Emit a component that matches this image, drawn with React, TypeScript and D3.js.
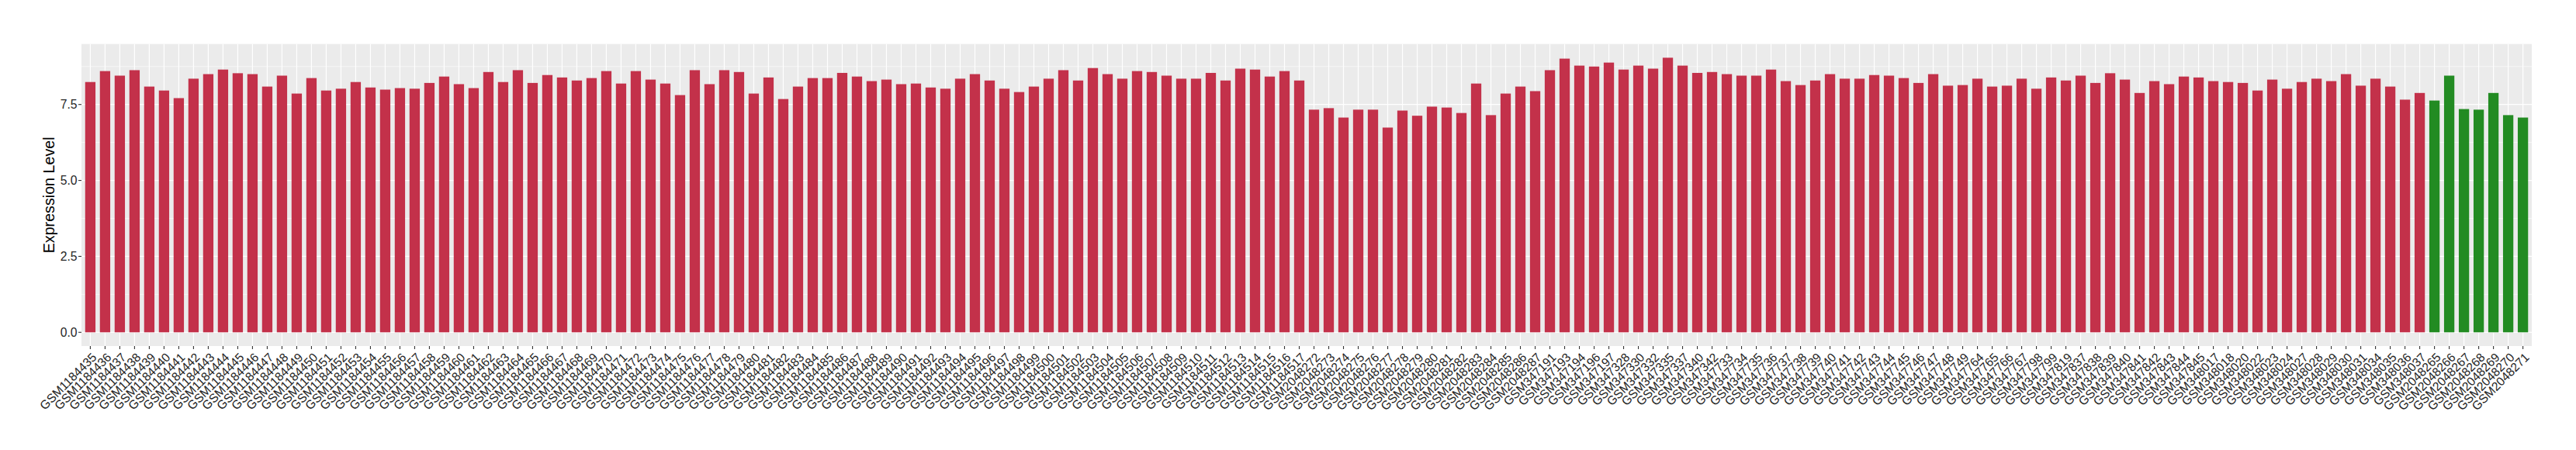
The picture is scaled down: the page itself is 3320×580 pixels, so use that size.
import React from "react";
import * as d3 from "d3";

const W = 3320;
const H = 580;

const group1Ids: string[] = Array.from({ length: 83 }, (_, i) => `GSM${1184435 + i}`);
const group2Ids: string[] = Array.from({ length: 16 }, (_, i) => `GSM${2048272 + i}`);
const group3Ids: string[] = [
  "GSM347191", "GSM347193", "GSM347194", "GSM347196", "GSM347197",
  "GSM347328", "GSM347330", "GSM347332", "GSM347335", "GSM347337", "GSM347340", "GSM347342",
  "GSM347733", "GSM347734", "GSM347735", "GSM347736", "GSM347737", "GSM347738", "GSM347739",
  "GSM347740", "GSM347741", "GSM347742", "GSM347743", "GSM347744", "GSM347745", "GSM347746",
  "GSM347747", "GSM347748", "GSM347749", "GSM347764", "GSM347765", "GSM347766", "GSM347767",
  "GSM347798", "GSM347799", "GSM347819", "GSM347837", "GSM347838", "GSM347839", "GSM347840",
  "GSM347841", "GSM347842", "GSM347843", "GSM347844", "GSM347845",
  "GSM348017", "GSM348018", "GSM348020", "GSM348022", "GSM348023", "GSM348024", "GSM348027",
  "GSM348028", "GSM348029", "GSM348030", "GSM348031", "GSM348034", "GSM348035", "GSM348036",
  "GSM348037",
];
const normalIds: string[] = [
  "GSM2048265", "GSM2048266", "GSM2048267", "GSM2048268", "GSM2048269", "GSM2048270", "GSM2048271",
];

const tumorValues: number[] = [
  8.24, 8.60, 8.45, 8.63, 8.09, 7.96, 7.71, 8.35, 8.50, 8.65,
  8.53, 8.50, 8.09, 8.45, 7.86, 8.37, 7.96, 8.02, 8.24, 8.06,
  7.99, 8.04, 8.02, 8.21, 8.42, 8.17, 8.04, 8.57, 8.24, 8.63,
  8.21, 8.47, 8.39, 8.29, 8.37, 8.60, 8.19, 8.60, 8.32, 8.19,
  7.81, 8.63, 8.17, 8.63, 8.57, 7.86, 8.39, 7.68, 8.09, 8.37,
  8.37, 8.54, 8.42, 8.27, 8.32, 8.17, 8.19, 8.06, 8.02, 8.35,
  8.50, 8.29, 8.02, 7.91, 8.09, 8.35, 8.63, 8.29, 8.70, 8.50,
  8.35, 8.60, 8.57, 8.45, 8.35, 8.35, 8.54, 8.29, 8.68, 8.65,
  8.42, 8.60, 8.29,
  7.33, 7.38, 7.07, 7.33, 7.33, 6.74, 7.30, 7.13, 7.43, 7.40,
  7.22, 8.19, 7.15, 7.86, 8.09, 7.94,
  8.63, 9.01, 8.78, 8.75, 8.88, 8.65, 8.78, 8.68, 9.04, 8.78,
  8.54, 8.57, 8.50, 8.45, 8.45, 8.65, 8.27, 8.14, 8.29, 8.50,
  8.35, 8.35, 8.47, 8.45, 8.37, 8.21, 8.50, 8.12, 8.14, 8.35,
  8.09, 8.12, 8.35, 8.02, 8.39, 8.29, 8.45, 8.21, 8.53, 8.32,
  7.88, 8.27, 8.17, 8.42, 8.39, 8.27, 8.24, 8.21, 7.96, 8.32,
  8.02, 8.24, 8.35, 8.27, 8.50, 8.12, 8.35, 8.09, 7.66, 7.88,
];
const normalValues: number[] = [7.63, 8.45, 7.35, 7.33, 7.88, 7.15, 7.07];

const yTicks: number[] = [0, 2.5, 5, 7.5];
const yMinorTicks: number[] = [1.25, 3.75, 6.25, 8.75];

const TUMOR_COLOR = "#C3314A";
const NORMAL_COLOR = "#228B22";

const tumorIds = [...group1Ids, ...group2Ids, ...group3Ids];
const data = [
  ...tumorIds.map((id, i) => ({ id, value: tumorValues[i], type: "tumor" })),
  ...normalIds.map((id, i) => ({ id, value: normalValues[i], type: "normal" })),
];

export default function App() {
  const left = 105;
  const right = 3263;
  const top = 56.7;
  const bottom = 446;

  const maxV = d3.max(data, (d) => d.value) as number;
  const y = d3
    .scaleLinear()
    .domain([-0.05 * maxV, 1.05 * maxV])
    .range([bottom, top]);

  const x = d3
    .scaleBand<string>()
    .domain(data.map((d) => d.id))
    .range([left, right])
    .paddingInner(0.3)
    .paddingOuter(0.25);

  const bw = x.bandwidth();
  const font = "'Liberation Sans', Arial, Helvetica, sans-serif";
  const tickFont = 15.7;
  const textColor = "#262626";

  return (
    <svg
      width={W}
      height={H}
      style={{ position: "absolute", left: 0, top: 0, background: "#fff" }}
      fontFamily={font}
    >
      <rect x={left} y={top} width={right - left} height={bottom - top} fill="#EBEBEB" />
      {yMinorTicks.map((t) => (
        <line key={"mn" + t} x1={left} x2={right} y1={y(t)} y2={y(t)} stroke="#fff" strokeWidth={0.6} />
      ))}
      {yTicks.map((t) => (
        <line key={"mj" + t} x1={left} x2={right} y1={y(t)} y2={y(t)} stroke="#fff" strokeWidth={1.2} />
      ))}
      {data.map((d) => {
        const cx = (x(d.id) as number) + bw / 2;
        return <line key={"vg" + d.id} x1={cx} x2={cx} y1={top} y2={bottom} stroke="#fff" strokeWidth={1.2} />;
      })}
      {data.map((d) => (
        <rect
          key={"b" + d.id}
          x={x(d.id) as number}
          y={y(d.value)}
          width={bw}
          height={y(0) - y(d.value)}
          fill={d.type === "tumor" ? TUMOR_COLOR : NORMAL_COLOR}
        />
      ))}
      {yTicks.map((t) => (
        <g key={"yt" + t}>
          <line x1={left - 4} x2={left} y1={y(t)} y2={y(t)} stroke="#333" strokeWidth={1.1} />
          <text x={left - 5.5} y={y(t)} dy="0.36em" textAnchor="end" fontSize={tickFont} fill={textColor}>
            {d3.format(".1f")(t)}
          </text>
        </g>
      ))}
      {data.map((d) => {
        const cx = (x(d.id) as number) + bw / 2;
        return (
          <g key={"xt" + d.id}>
            <line x1={cx} x2={cx} y1={bottom} y2={bottom + 4} stroke="#333" strokeWidth={1.1} />
            <text
              transform={`translate(${cx + 1},${bottom + 7.5}) rotate(-45)`}
              textAnchor="end"
              dy="0.72em"
              fontSize={tickFont}
              fill={textColor}
            >
              {d.id}
            </text>
          </g>
        );
      })}
      <text
        transform={`translate(70,${(top + bottom) / 2}) rotate(-90)`}
        textAnchor="middle"
        fontSize={19.7}
        fill="#000"
      >
        Expression Level
      </text>
    </svg>
  );
}
